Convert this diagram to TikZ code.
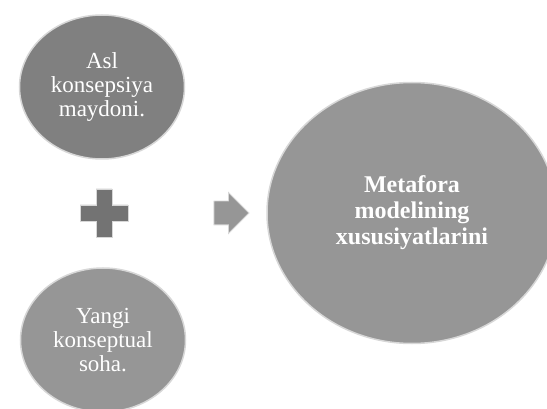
\documentclass[tikz,border=0pt]{standalone}
\usepackage{fontspec}
\setmainfont{Liberation Serif}
\usepackage{xcolor}
\usepackage{tikz}
\usetikzlibrary{arrows.meta, positioning, shapes.geometric, shapes.arrows}

\definecolor{ballgray}{RGB}{150,150,150}
\definecolor{darkball}{RGB}{128,128,128}
\definecolor{rimgray}{RGB}{215,215,215}
\definecolor{markgray}{RGB}{130,130,130}

\begin{document}
\begin{tikzpicture}[
          x=1pt, y=-1pt,
          ball/.style={ellipse, draw=rimgray, line width=1.5pt, fill=ballgray,
            text=white, align=center, inner sep=0pt},
          small ball/.style={ball, minimum width=165pt, minimum height=144pt,
            font=\fontsize{23}{24}\selectfont},
          big ball/.style={ball, minimum width=290pt, minimum height=261pt,
            font=\fontsize{24}{26}\selectfont\bfseries},
          signmark/.style={fill=markgray, draw=rimgray, line width=0.8pt}
        ]
          \useasboundingbox (0,0) rectangle (547,409);
          \clip (0,0) rectangle (547,409);
          \node[small ball, fill=darkball] (source) at (102,87) {Asl\\konsepsiya\\maydoni.};
          \node[small ball] (target) at (103,340) {Yangi\\konseptual\\soha.};
          \node[big ball] (metaphor) at (412,213) {Metafora\\modelining\\xususiyatlarini};
          % plus sign between the two small circles
          \coordinate (plus) at (104,213);
          \filldraw[signmark, fill=darkball!90!black] ([shift={(-8,-24)}]plus) -- ++(16,0) -- ++(0,16)
            -- ++(16,0) -- ++(0,16) -- ++(-16,0) -- ++(0,16) -- ++(-16,0)
            -- ++(0,-16) -- ++(-16,0) -- ++(0,-16) -- ++(16,0) -- cycle;
          % arrow towards the big circle
          \node[single arrow, signmark, fill=ballgray, minimum height=35pt, minimum width=40pt,
            single arrow head extend=8.5pt, inner xsep=0pt, inner ysep=11.5pt] (arrow) at (225.5,213) {};
        \end{tikzpicture}
\end{document}
